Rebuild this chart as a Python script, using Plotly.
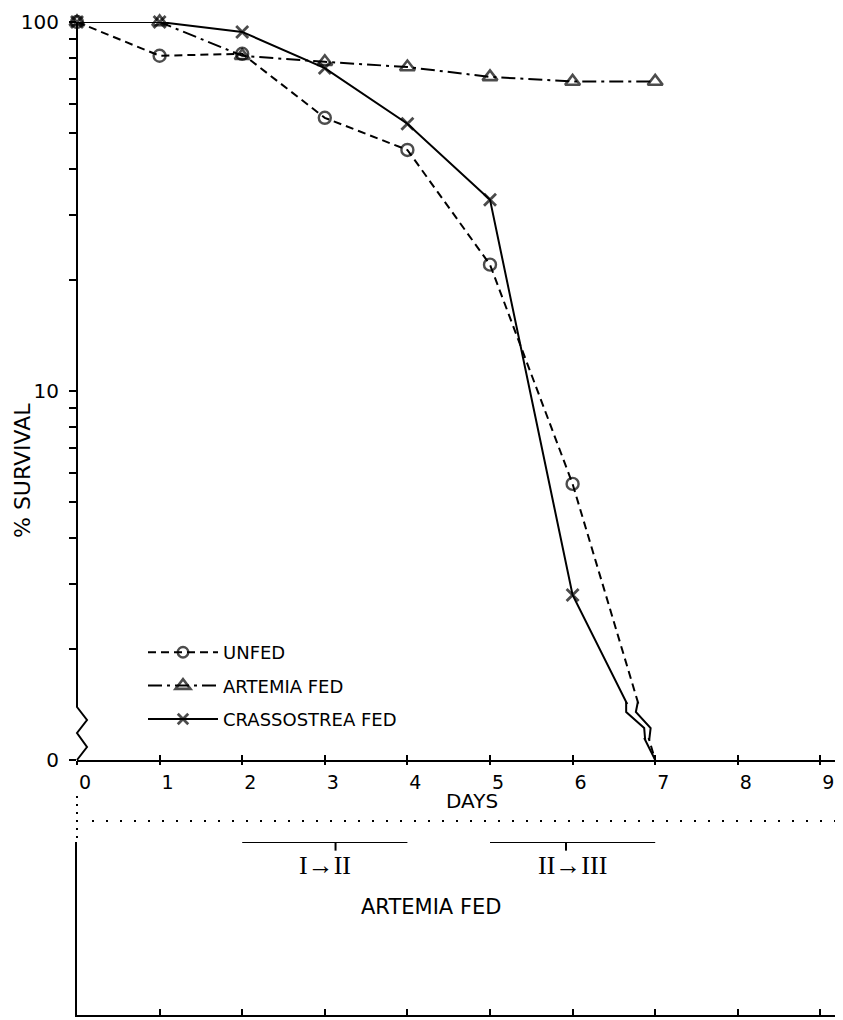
import math
import plotly.graph_objects as go

# ---------------- data ----------------
days = [0, 1, 2, 3, 4, 5, 6, 7]
unfed = [100, 81, 82, 55, 45, 22, 5.6, 0]
artemia_fed = [100, 100, 81, 78, 75.5, 71, 69, 69]
crassostrea_fed = [100, 100, 94, 75, 53, 33, 2.8, 0]

x_ticks = [0, 1, 2, 3, 4, 5, 6, 7, 8, 9]
y_ticks = [1, 2, 3, 4, 5, 6, 7, 8, 9, 10, 20, 30, 40, 50, 60, 70, 80, 90, 100]
y_tick_text = ["0", "", "", "", "", "", "", "", "", "10",
               "", "", "", "", "", "", "", "", "100"]

stage_labels = ["I\u2192II", "II\u2192III"]
stage_start = [2, 5]
stage_end = [4, 7]
stage_mid = [3.13, 5.92]

ZERO = 1  # "0" is drawn at the bottom of the broken log axis

# ---------------- geometry (reference pixel coords, page has 8px body margin) ----------------
OFF = 8
W, H = 843 - OFF, 1020 - OFF
ML, MR, MT, MB = 77 - OFF, 0, 22 - OFF, 5
PW, PH = W - ML - MR, H - MT - MB
PX_PER_DAY = 82.6
Y_TOP, Y_BOT = 22, 760
def px(x):
    return (x - OFF - ML) / PW
def py(y):
    return (H - MB - (y - OFF)) / PH
def day2px(d):
    return 77 + PX_PER_DAY * d
def val2py(v):
    return Y_BOT - (Y_BOT - Y_TOP) / 2 * math.log10(v)

X_RANGE = [0, PW / PX_PER_DAY]
FONT = "DejaVu Sans"

def plot_vals(v):
    return [ZERO if a == 0 else a for a in v]

def sizes(v, s):
    return [0 if a == 0 else s for a in v]

fig = go.Figure()

series = [
    ("UNFED", unfed, dict(color="black", width=2, dash="8px,5px"), "circle-open", 12, 2.4),
    ("ARTEMIA FED", artemia_fed, dict(color="black", width=2, dash="14px,5px,3px,5px"),
     "triangle-up-open", 13, 2.6),
    ("CRASSOSTREA FED", crassostrea_fed, dict(color="black", width=2), "x-thin", 12, 2.8),
]
for i, (name, vals, line, sym, sz, lw) in enumerate(series):
    fig.add_trace(go.Scatter(
        x=days, y=plot_vals(vals), name=name, mode="lines+markers",
        line=line,
        marker=dict(symbol=sym, size=sizes(vals, sz), color="black",
                    line=dict(width=lw, color="black")),
        cliponaxis=False, legendgroup=f"g{i}"))

# bottom panel: molt stage intervals (artemia fed)
for s, e, m in zip(stage_start, stage_end, stage_mid):
    fig.add_trace(go.Scatter(x=[s, e], y=[1.0, 1.0], mode="lines",
                             line=dict(color="black", width=2),
                             xaxis="x2", yaxis="y2", showlegend=False,
                             cliponaxis=False, hoverinfo="skip"))
    fig.add_trace(go.Scatter(x=[m, m], y=[0.95, 1.07], mode="lines",
                             line=dict(color="black", width=2),
                             xaxis="x2", yaxis="y2", showlegend=False,
                             cliponaxis=False, hoverinfo="skip"))

annotations = []
for lab, s, e in zip(stage_labels, stage_start, stage_end):
    annotations.append(dict(x=(s + e) / 2, y=0.865, xref="x2", yref="y2",
                            xanchor="center", yanchor="middle",
                            text=lab, showarrow=False,
                            font=dict(family="Liberation Serif", size=26, color="black")))
annotations.append(dict(x=px(431), y=py(907), xref="paper", yref="paper",
                        xanchor="center", yanchor="middle",
                        text="ARTEMIA FED", showarrow=False,
                        font=dict(family=FONT, size=21, color="black")))
annotations.append(dict(x=px(472), y=py(801), xref="paper", yref="paper",
                        xanchor="center", yanchor="middle",
                        text="DAYS", showarrow=False,
                        font=dict(family=FONT, size=20, color="black")))
annotations.append(dict(x=px(22), y=py(471), xref="paper", yref="paper",
                        xanchor="center", yanchor="middle",
                        text="% SURVIVAL", textangle=-90, showarrow=False,
                        font=dict(family=FONT, size=22, color="black")))

def path(points):
    return "M " + " L ".join(f"{px(a)},{py(b)}" for a, b in points)

shapes = [
    # y axis line with break (zigzag)
    dict(type="path", xref="paper", yref="paper",
         path=path([(77, 22), (77, 707), (87, 720), (77, 733), (87, 747), (77, 760)]),
         line=dict(color="black", width=2)),
    # dotted separator lines
    dict(type="line", xref="paper", yref="paper", x0=px(92), x1=px(843), y0=py(821), y1=py(821),
         line=dict(color="black", width=2, dash="2px,12px")),
    dict(type="line", xref="paper", yref="paper", x0=px(77), x1=px(77), y0=py(796), y1=py(838),
         line=dict(color="black", width=2, dash="2px,6px")),
]

# break marks on the lines that fall to zero
for name, vals, line, *_ in series:
    for k in range(1, len(vals)):
        if vals[k] == 0 and vals[k - 1] > 0:
            x0, y0 = day2px(days[k - 1]), val2py(vals[k - 1])
            x1, y1 = day2px(days[k]), val2py(ZERO)
            def on(yy):
                return x0 + (x1 - x0) * (yy - y0) / (y1 - y0)
            ya, yb = 704, 738
            shapes.append(dict(type="path", xref="paper", yref="paper",
                               path=path([(on(ya), ya), (on(yb), yb)]),
                               line=dict(color="white", width=5)))
            shapes.append(dict(type="path", xref="paper", yref="paper",
                               path=path([(on(ya - 2), ya - 2), (on(ya + 8) - 5, ya + 8),
                                          (on(yb - 10) + 5, yb - 10), (on(yb + 2), yb + 2)]),
                               line=dict(color="black", width=2)))

axis_font = dict(family=FONT, size=19, color="black")

fig.update_layout(
    width=W, height=H,
    margin=dict(l=ML, r=MR, t=MT, b=MB, autoexpand=False),
    paper_bgcolor="white", plot_bgcolor="white",
    font=dict(family=FONT, color="black"),
    showlegend=True,
    legend=dict(x=px(143), y=py(634), xanchor="left", yanchor="top",
                font=dict(family=FONT, size=18, color="black"),
                itemwidth=70, tracegroupgap=7, bgcolor="rgba(0,0,0,0)"),
    xaxis=dict(domain=[0, 1], range=X_RANGE, anchor="y", automargin=False,
               showline=True, linewidth=2, linecolor="black",
               ticks="inside", ticklen=5, tickwidth=2, tickcolor="black",
               tickvals=x_ticks, tickfont=axis_font, ticklabelshift=8,
               ticklabelstandoff=4, ticklabeloverflow="allow",
               showgrid=False, zeroline=False),
    xaxis3=dict(overlaying="x", matches="x", anchor="y", range=X_RANGE, automargin=False,
                showline=False, ticks="outside", ticklen=4, tickwidth=2,
                tickcolor="black", tickvals=x_ticks, showticklabels=False,
                showgrid=False, zeroline=False),
    yaxis=dict(domain=[py(Y_BOT), 1], type="log", range=[0, 2], automargin=False,
               showline=False, ticks="outside", ticklen=7, tickwidth=2,
               tickcolor="black", tickvals=y_ticks, ticktext=y_tick_text,
               tickfont=dict(family=FONT, size=20, color="black"),
               ticklabelstandoff=6, ticklabeloverflow="allow",
               showgrid=False, zeroline=False),
    xaxis2=dict(domain=[0, 1], range=X_RANGE, anchor="y2", automargin=False,
                showline=True, linewidth=2, linecolor="black",
                ticks="inside", ticklen=6, tickwidth=2, tickcolor="black",
                tickvals=x_ticks, showticklabels=False,
                showgrid=False, zeroline=False),
    yaxis2=dict(domain=[0, py(842)], range=[0, 1.0], anchor="x2", automargin=False,
                showline=True, linewidth=2, linecolor="black",
                showticklabels=False, ticks="", showgrid=False, zeroline=False),
    annotations=annotations,
    shapes=shapes,
)

# invisible trace that activates xaxis3 (ticks crossing the axis line)
fig.add_trace(go.Scatter(x=[0], y=[ZERO], xaxis="x3", yaxis="y", mode="markers",
                         marker=dict(size=0, opacity=0), showlegend=False, hoverinfo="skip"))

fig.write_html("out.html")
